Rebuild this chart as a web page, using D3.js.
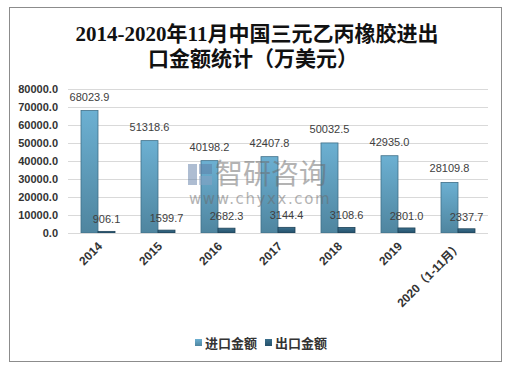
<!DOCTYPE html>
<html>
<head>
<meta charset="utf-8">
<script src="https://cdn.jsdelivr.net/npm/d3@7/dist/d3.min.js"></script>
<style>
  body { margin: 0; background: #fff; }
</style>
</head>
<body>
<script>
const years = ["2014", "2015", "2016", "2017", "2018", "2019", "2020（1-11月）"];
const importVals = [68023.9, 51318.6, 40198.2, 42407.8, 50032.5, 42935.0, 28109.8];
const exportVals = [906.1, 1599.7, 2682.3, 3144.4, 3108.6, 2801.0, 2337.7];
const yTicks = [0, 10000, 20000, 30000, 40000, 50000, 60000, 70000, 80000];
const seriesNames = ["进口金额", "出口金额"];

const width = 513, height = 372;
const plotL = 68, plotR = 488, plotT = 89, plotB = 233;
const barW = 17;

const svg = d3.select("body").append("svg")
  .attr("width", width)
  .attr("height", height);

const defs = svg.append("defs");
const g1 = defs.append("linearGradient").attr("id", "gImp")
  .attr("x1", 0).attr("y1", 0).attr("x2", 0).attr("y2", 1);
g1.append("stop").attr("offset", "0%").attr("stop-color", "#6cb0d2");
g1.append("stop").attr("offset", "100%").attr("stop-color", "#4f859f");
const g2 = defs.append("linearGradient").attr("id", "gExp")
  .attr("x1", 0).attr("y1", 0).attr("x2", 0).attr("y2", 1);
g2.append("stop").attr("offset", "0%").attr("stop-color", "#3a6f8c");
g2.append("stop").attr("offset", "100%").attr("stop-color", "#24506a");

// frame
svg.append("rect")
  .attr("x", 9.5).attr("y", 7.5)
  .attr("width", 492).attr("height", 354)
  .attr("fill", "#fff").attr("stroke", "#8c8c8c").attr("stroke-width", 1);

// title
const title = svg.append("text")
  .attr("text-anchor", "middle")
  .attr("font-family", "'Liberation Serif', 'Noto Sans CJK SC', serif")
  .attr("font-weight", "bold")
  .attr("font-size", 21)
  .attr("fill", "#111");
title.append("tspan").attr("x", 257).attr("y", 41).text("2014-2020年11月中国三元乙丙橡胶进出");
title.append("tspan").attr("x", 253).attr("y", 66).text("口金额统计（万美元）");

const x = d3.scaleBand().domain(years).range([plotL, plotR]).padding(0);
const y = d3.scaleLinear().domain([0, 80000]).range([plotB, plotT]);

// grid
svg.append("g").selectAll("line")
  .data(yTicks)
  .enter()
  .append("line")
  .attr("x1", plotL).attr("x2", plotR)
  .attr("y1", d => Math.round(y(d)) + 0.5)
  .attr("y2", d => Math.round(y(d)) + 0.5)
  .attr("stroke", "#d9d9d9");

// y axis
const yAxis = d3.axisLeft(y).tickValues(yTicks).tickFormat(d3.format(".1f")).tickSize(0).tickPadding(10);
svg.append("g")
  .attr("transform", `translate(${plotL},0)`)
  .call(yAxis)
  .call(g => g.select(".domain").remove())
  .selectAll("text")
  .attr("font-family", "'Liberation Sans', Arial, sans-serif")
  .attr("font-weight", "bold")
  .attr("font-size", 11)
  .attr("fill", "#333");

// bars
const grp = svg.append("g").selectAll("g")
  .data(years)
  .enter()
  .append("g");

grp.append("rect")
  .attr("x", d => x(d) + x.bandwidth() / 2 - barW)
  .attr("y", (d, i) => y(importVals[i]))
  .attr("width", barW)
  .attr("height", (d, i) => plotB - y(importVals[i]))
  .attr("fill", "url(#gImp)")
  .attr("stroke", "#3f6f88")
  .attr("stroke-width", 0.8);

grp.append("rect")
  .attr("x", d => x(d) + x.bandwidth() / 2)
  .attr("y", (d, i) => y(exportVals[i]))
  .attr("width", barW)
  .attr("height", (d, i) => plotB - y(exportVals[i]))
  .attr("fill", "url(#gExp)")
  .attr("stroke", "#1f4358")
  .attr("stroke-width", 0.8);

// value labels
grp.append("text")
  .attr("x", d => x(d) + x.bandwidth() / 2 - barW / 2)
  .attr("y", (d, i) => y(importVals[i]) - 10)
  .attr("text-anchor", "middle")
  .attr("font-family", "'Liberation Sans', Arial, sans-serif")
  .attr("font-size", 11)
  .attr("fill", "#404040")
  .text((d, i) => importVals[i].toFixed(1));

grp.append("text")
  .attr("x", d => x(d) + x.bandwidth() / 2 + barW / 2)
  .attr("y", (d, i) => y(exportVals[i]) - 8)
  .attr("text-anchor", "middle")
  .attr("font-family", "'Liberation Sans', Arial, sans-serif")
  .attr("font-size", 11)
  .attr("fill", "#404040")
  .text((d, i) => exportVals[i].toFixed(1));

// watermark (drawn over the bars, semi-transparent)
const wm = svg.append("g").attr("opacity", 0.5);
wm.append("rect").attr("x", 188).attr("y", 164).attr("width", 9).attr("height", 21).attr("fill", "#5f7ea6");
wm.append("rect").attr("x", 199).attr("y", 164).attr("width", 13).attr("height", 10).attr("fill", "#5f7ea6");
wm.append("rect").attr("x", 199).attr("y", 176).attr("width", 13).attr("height", 9).attr("fill", "#8aa3c4");
wm.append("text")
  .attr("x", 215).attr("y", 184)
  .attr("font-family", "'Noto Sans CJK SC', sans-serif")
  .attr("font-size", 28)
  .attr("fill", "#6a6a6a")
  .text("智研咨询");
wm.append("text")
  .attr("x", 189).attr("y", 204)
  .attr("font-family", "'DejaVu Sans', sans-serif")
  .attr("font-size", 15)
  .attr("letter-spacing", 1.6)
  .attr("fill", "#6a6a6a")
  .text("www.chyxx.com");

// x axis line
svg.append("line")
  .attr("x1", plotL).attr("x2", plotR)
  .attr("y1", plotB + 0.5).attr("y2", plotB + 0.5)
  .attr("stroke", "#d9d9d9");

// x labels
svg.append("g").selectAll("text")
  .data(years)
  .enter()
  .append("text")
  .attr("transform", d => `translate(${x(d) + x.bandwidth() / 2 + 5},${plotB + 14}) rotate(-45)`)
  .attr("text-anchor", "end")
  .attr("font-family", "'Liberation Sans', 'Noto Sans CJK SC', sans-serif")
  .attr("font-weight", "bold")
  .attr("font-size", 12)
  .attr("fill", "#333")
  .text(d => d);

// legend
const legendX = [195, 265];
const legendFill = ["url(#gImp)", "url(#gExp)"];
const lg = svg.append("g").selectAll("g")
  .data(seriesNames)
  .enter()
  .append("g")
  .attr("transform", (d, i) => `translate(${legendX[i]},339)`);
lg.append("rect")
  .attr("width", 7).attr("height", 7)
  .attr("fill", (d, i) => legendFill[i]);
lg.append("text")
  .attr("x", 10).attr("y", 8.5)
  .attr("font-family", "'Noto Sans CJK SC', sans-serif")
  .attr("font-weight", "bold")
  .attr("font-size", 13)
  .attr("fill", "#333")
  .text(d => d);
</script>
</body>
</html>
